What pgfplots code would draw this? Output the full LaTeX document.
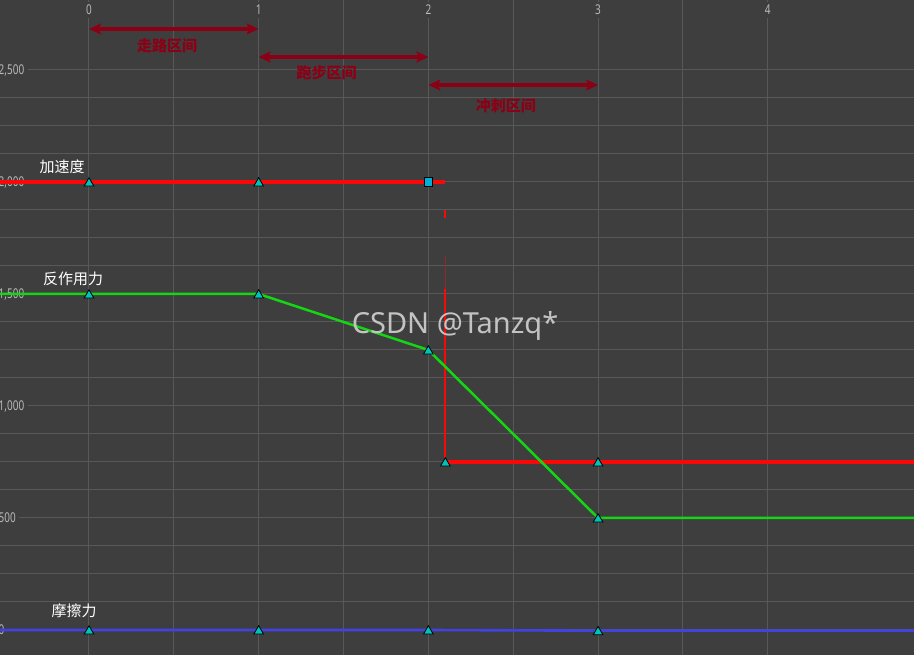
\documentclass[border=0pt]{standalone}
\usepackage{pgfplots}
\pgfplotsset{compat=1.18}
\usepackage{fontspec}
\setmainfont{Noto Sans}
\newfontfamily\tickfont[FakeStretch=0.74]{Noto Sans}
\newfontfamily\cjk{Noto Sans CJK SC}
\usetikzlibrary{arrows.meta}
\definecolor{bg}{RGB}{62,62,62}
\definecolor{gridc}{RGB}{88,88,88}
\definecolor{tickc}{RGB}{185,185,185}
\definecolor{accred}{RGB}{250,8,8}
\definecolor{grn}{RGB}{20,215,20}
\definecolor{blu}{RGB}{66,66,228}
\definecolor{tri}{RGB}{0,195,185}
\definecolor{sq}{RGB}{0,175,215}
\definecolor{ann}{RGB}{140,0,22}
\definecolor{wm}{RGB}{195,195,195}
\begin{document}
\begin{tikzpicture}
\begin{axis}[
  set layers=standard,
  scale only axis, width=914pt, height=655pt,
  xmin=-0.5245, xmax=4.862, ymin=-111.6, ymax=2812.5,
  axis background/.style={fill=bg},
  axis line style={draw=none},
  major tick length=0pt, minor tick length=0pt,
  xtick={0,1,2,3,4}, minor x tick num=1,
  ytick={0,500,1000,1500,2000,2500}, minor y tick num=3,
  grid=both,
  major grid style={gridc, line width=1pt},
  minor grid style={gridc, line width=1pt},
  xticklabel pos=upper,
  /pgf/number format/assume math mode=true,
  /pgf/number format/1000 sep={,},
  ticklabel style={font=\tickfont\fontsize{13.5}{13.5}\selectfont, text=tickc, fill=bg, inner sep=3.5pt},
  xticklabel style={anchor=center, yshift=-10pt},
  yticklabel style={anchor=west, xshift=-5pt},
  clip=true,
]
% acceleration (red)
\addplot[accred, line width=4.5pt] coordinates {(-0.6,2000) (2.098,2000)};
\addplot[accred, line width=2.2pt] coordinates {(2.1,1875) (2.1,1839)};
\addplot[accred!45!bg, line width=1pt] coordinates {(2.1,1676) (2.1,1522)};
\addplot[accred, line width=2.2pt] coordinates {(2.1,1522) (2.1,750)};
\addplot[accred, line width=4pt] coordinates {(2.1,750) (5,750)};
% reaction force (green)
\addplot[grn, line width=2.5pt] coordinates {(-0.6,1500) (0,1500) (1,1500) (2,1250) (3,500) (5,500)};
% friction (blue)
\addplot[blu, line width=2.6pt] coordinates {(-0.6,0) (0,0) (1,0) (2,0) (3,-3) (5,-3)};
% markers
\addplot[only marks, mark=triangle*, mark size=5.6pt,
  mark options={fill=tri, draw=black, line width=0.8pt, yshift=-1.3pt}]
  coordinates {(0,2000) (1,2000) (2.1,750) (3,750)
               (0,1500) (1,1500) (2,1250) (3,500)
               (0,0) (1,0) (2,0) (3,-3)};
\addplot[only marks, mark=square*, mark size=4.2pt,
  mark options={fill=sq, draw=black, line width=0.8pt}]
  coordinates {(2,2000)};
% interval annotations
\tikzset{intarrow/.style={ann, line width=3.6pt,
  {Stealth[length=12pt,width=11pt,inset=2.5pt]}-{Stealth[length=12pt,width=11pt,inset=2.5pt]}}}
\draw[intarrow] (axis cs:0,2683) -- (axis cs:1,2683);
\draw[intarrow] (axis cs:1,2558) -- (axis cs:2,2558);
\draw[intarrow] (axis cs:2,2433) -- (axis cs:3,2433);
\node[text=ann, font=\cjk\bfseries\fontsize{15}{15}\selectfont] at (axis cs:0.46,2607) {走路区间};
\node[text=ann, font=\cjk\bfseries\fontsize{15}{15}\selectfont] at (axis cs:1.40,2487) {跑步区间};
\node[text=ann, font=\cjk\bfseries\fontsize{15}{15}\selectfont] at (axis cs:2.457,2339) {冲刺区间};
% series labels
\node[text=white, font=\cjk\fontsize{15}{15}\selectfont] at (axis cs:-0.159,2067) {加速度};
\node[text=white, font=\cjk\fontsize{15}{15}\selectfont] at (axis cs:-0.094,1567) {反作用力};
\node[text=white, font=\cjk\fontsize{15}{15}\selectfont] at (axis cs:-0.088,85) {摩擦力};
% watermark
\node[text=wm, font=\fontsize{29}{29}\selectfont] at (axis cs:2.157,1358) {CSDN @Tanzq*};
\end{axis}
\pgfresetboundingbox
\path[use as bounding box] (current axis.south west) rectangle (current axis.north east);
\end{tikzpicture}
\end{document}
